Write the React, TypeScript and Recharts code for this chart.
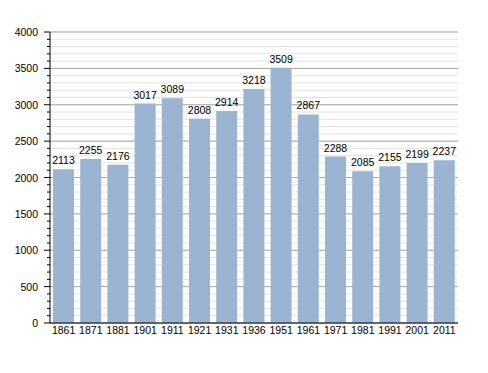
import { BarChart, Bar, XAxis, YAxis, CartesianGrid, LabelList } from 'recharts';

const years = ['1861', '1871', '1881', '1901', '1911', '1921', '1931', '1936', '1951', '1961', '1971', '1981', '1991', '2001', '2011'];
const population = [2113, 2255, 2176, 3017, 3089, 2808, 2914, 3218, 3509, 2867, 2288, 2085, 2155, 2199, 2237];
const majorTicks = [0, 500, 1000, 1500, 2000, 2500, 3000, 3500, 4000];
const minorTicks = Array.from({ length: 41 }, (_, i) => i * 100);

const data = years.map((year, i) => ({ year, value: population[i] }));

const FONT = 'Liberation Sans, Arial, sans-serif';

function YTick(props: any) {
  const { x, y, payload } = props;
  const major = payload.value % 500 === 0;
  return (
    <g>
      <line x1={major ? x - 6 : x - 3} x2={x} y1={y} y2={y} stroke="#000" strokeWidth={1} />
      {major && (
        <text x={x - 12} y={y} dy={4} textAnchor="end" fontSize={10.5} fontFamily={FONT} fill="#000">
          {payload.value}
        </text>
      )}
    </g>
  );
}

export default function App() {
  return (
    <div style={{ position: 'absolute', left: 0, top: 0, width: 488, height: 373, background: '#fff' }}>
      <BarChart width={488} height={373} data={data} margin={{ top: 32, right: 30, left: 0, bottom: 20 }} barSize={21}>
        <CartesianGrid vertical={false} horizontalValues={minorTicks} stroke="#e2e2e2" />
        <CartesianGrid vertical={false} horizontalValues={majorTicks} stroke="#a8a8a8" />
        <XAxis
          dataKey="year"
          tickLine={false}
          axisLine={{ stroke: '#000' }}
          tick={{ fill: '#000', fontSize: 10.5, fontFamily: FONT }}
          tickSize={0}
          tickMargin={4}
          interval={0}
          height={30}
        />
        <YAxis
          domain={[0, 4000]}
          ticks={minorTicks}
          interval={0}
          width={50}
          tickSize={0}
          tickMargin={0}
          tickLine={false}
          axisLine={{ stroke: '#000' }}
          tick={<YTick />}
        />
        <Bar dataKey="value" fill="#9bb4d1" isAnimationActive={false}>
          <LabelList dataKey="value" position="top" offset={5} fill="#000" fontSize={10.5} fontFamily={FONT} />
        </Bar>
      </BarChart>
    </div>
  );
}
